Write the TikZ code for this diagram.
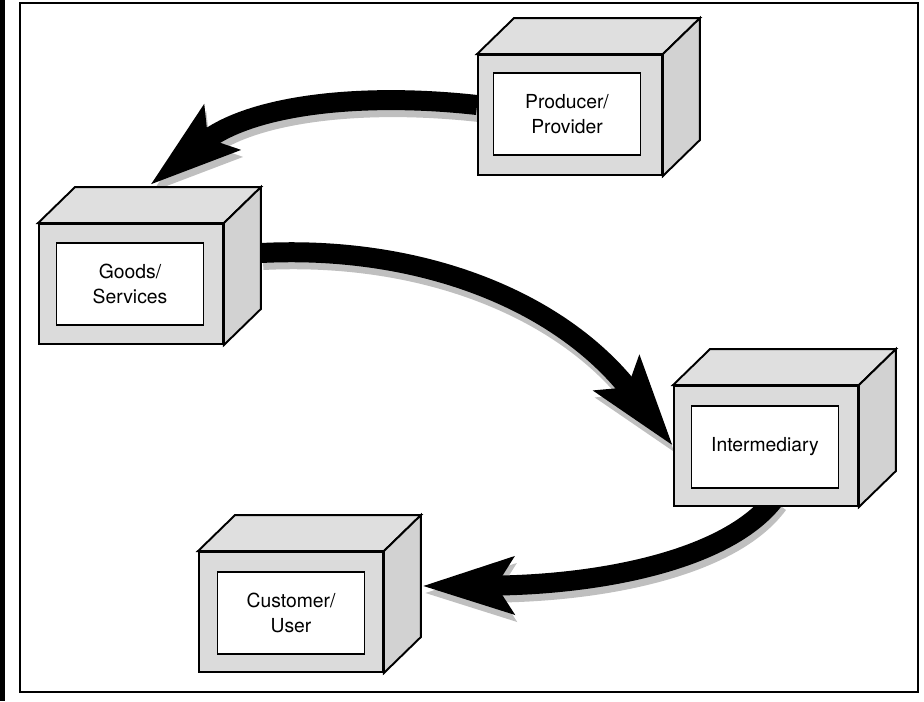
\documentclass[tikz,border=0pt]{standalone}
\usepackage{fontspec}
\setmainfont{TeX Gyre Heros}
\usetikzlibrary{arrows.meta,backgrounds}

\begin{document}
\begin{tikzpicture}[
        x=0.02cm, y=-0.02cm,
        face/.style={rectangle, draw, line width=1.1pt, fill=gray!28, minimum width=3.68cm, minimum height=2.4cm},
        namebox/.style={rectangle, draw, line width=0.8pt, fill=white, minimum width=2.94cm, minimum height=1.64cm, align=center, font=\fontsize{11}{14.5}\selectfont},
        flow/.style={line width=0.4cm, draw=black, -{Stealth[length=1.8cm, width=1.1cm, inset=0.32cm]}},
        flowshadow/.style={flow, draw=gray!50, transform canvas={xshift=0.04cm, yshift=-0.14cm}}
    ]
        \useasboundingbox (0,0) rectangle (924,701);
        % Frame
        \fill (0,0) rectangle (5,701);
        \draw[line width=0.6pt] (20,3) rectangle (918,692);

        % Boxes
        \node[face] (prod) at (570,115) {};
        \node[namebox] (prodtxt) at (567,114) {Producer/\\Provider};
        \node[face] (goods) at (131,284) {};
        \node[namebox] (goodstxt) at (130,284) {Goods/\\Services};
        \node[face] (intm) at (766,446) {};
        \node[namebox] (intmtxt) at (765,447) {Intermediary};
        \node[face] (cust) at (291,612) {};
        \node[namebox] (custtxt) at (291,613) {Customer/\\User};

        % Box depth
        \foreach \b in {prod,goods,intm,cust} {
            \draw[line width=1.1pt, fill=gray!25] (\b.north west) -- ++(37,-36) -- ([shift={(37,-36)}]\b.north east) -- (\b.north east) -- cycle;
            \draw[line width=1.1pt, fill=gray!35] (\b.north east) -- ++(37,-36) -- ([shift={(37,-36)}]\b.south east) -- (\b.south east) -- cycle;
        }

        % Flows
        \begin{scope}[on background layer]
            \foreach \s in {flowshadow,flow} {
                % Producer -> Goods
                \draw[\s] ([shift={(0,-10)}]prod.west) .. controls (360,92) and (250,105) .. ([shift={(19,-38)}]goods.north);
                % Goods -> Intermediary
                \draw[\s] ([shift={(37,-31)}]goods.east) .. controls (420,245) and (560,300) .. (intm.west);
                % Intermediary -> Customer
                \draw[\s] ([shift={(10,-10)}]intm.south) .. controls (730,560) and (600,585) .. ([shift={(38,-26)}]cust.east);
            }
        \end{scope}
\end{tikzpicture}
\end{document}
